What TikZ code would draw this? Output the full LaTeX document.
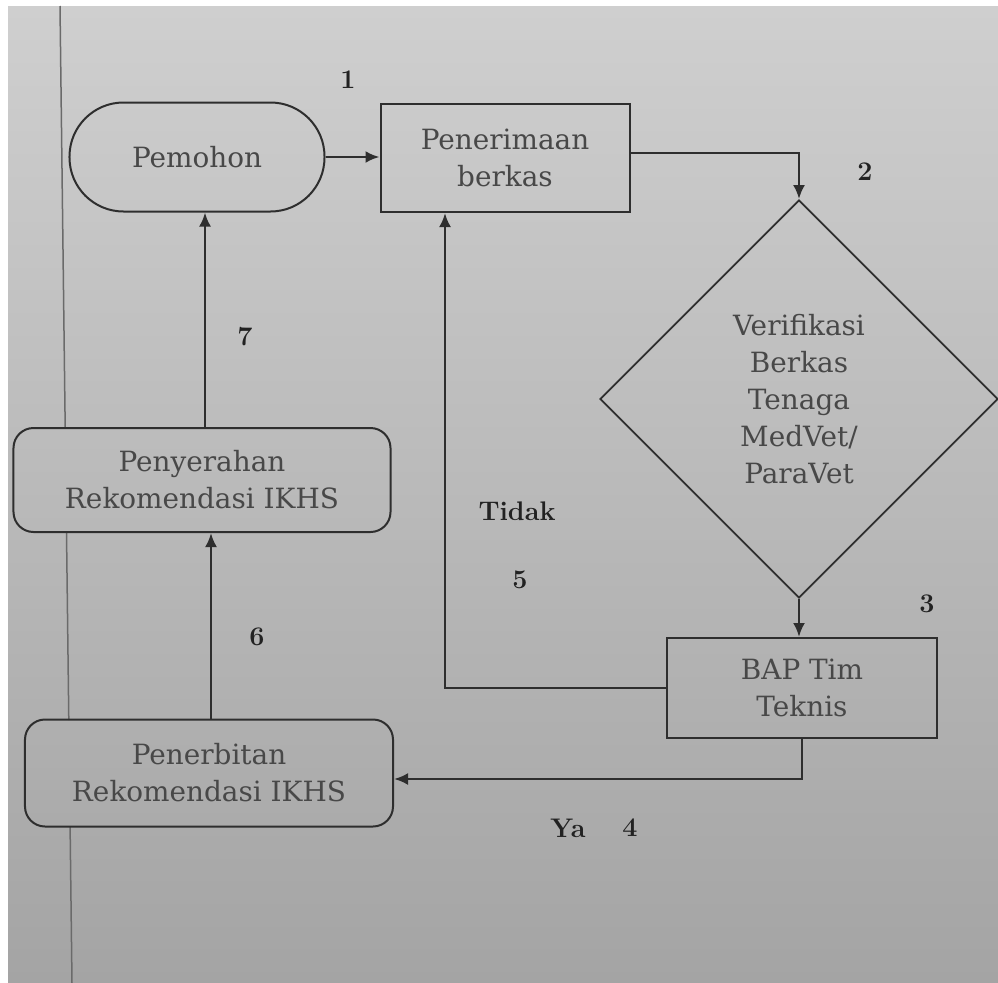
\documentclass[tikz,border=0pt]{standalone}
\usepackage{fontspec}
\newfontfamily\boxfont{DejaVu Serif}
\usetikzlibrary{shapes.geometric,arrows.meta}
\definecolor{linec}{HTML}{2E2E2E}
\definecolor{textc}{HTML}{484848}
\definecolor{lblc}{HTML}{222222}
\definecolor{pagec}{HTML}{6A6A6A}
\definecolor{bgtop}{HTML}{CFCFCF}
\definecolor{bgbot}{HTML}{A4A4A4}
\begin{document}
\begin{tikzpicture}[x=1bp,y=-1bp,
  box/.style={draw=linec, line width=2bp, inner sep=0pt, text=textc, align=center, font=\boxfont\fontsize{28}{37}\selectfont},
  conn/.style={draw=linec, line width=2.6bp, -{Latex[length=14bp,width=12bp]}},
  lbl/.style={text=lblc, inner sep=0pt, font=\fontsize{27}{30}\selectfont\bfseries},
  pageline/.style={draw=pagec, line width=1.5bp}]
\useasboundingbox (0,0) rectangle (998,983);
\fill[white] (0,0) rectangle (998,983);
\shade[top color=bgtop, bottom color=bgbot] (8,6) rectangle (998,983);
\coordinate (p0) at (60,6);
\coordinate (p1) at (65.2,428);
\coordinate (p2) at (66.5,532);
\coordinate (p3) at (68.8,720);
\coordinate (p4) at (70.1,827);
\coordinate (p5) at (72,983);
\draw[pageline] (p0) -- (p1);
\draw[pageline] (p2) -- (p3);
\draw[pageline] (p4) -- (p5);

\node[box, rounded corners=54bp, minimum width=255bp, minimum height=109bp] (pem) at (197,157) {Pemohon};
\node[box, minimum width=249bp, minimum height=108bp] (pen) at (505,158) {Penerimaan\\berkas};
\node[box, shape=diamond, minimum width=398bp, minimum height=398bp, line width=1.8bp] (ver) at (799,399) {Verifikasi\\Berkas\\Tenaga\\MedVet/\\ParaVet};
\node[box, minimum width=270bp, minimum height=100bp] (bap) at (802,688) {BAP Tim\\Teknis};
\node[box, rounded corners=20bp, minimum width=368bp, minimum height=107bp] (pnb) at (209,773) {Penerbitan\\Rekomendasi IKHS};
\node[box, rounded corners=20bp, minimum width=377bp, minimum height=104bp] (pny) at (202,480) {Penyerahan\\Rekomendasi IKHS};

\draw[conn] (pem.east) -- (pem.east -| pen.west);
\draw[conn] ([yshift=5bp]pen.east) -| (ver.north);
\draw[conn] (ver.south) -- (ver.south |- bap.north);
\draw[conn] (bap.west) -| ([xshift=-60bp]pen.south);
\draw[conn] (bap.south) |- ([yshift=-6bp]pnb.east);
\draw[conn] ([xshift=2bp]pnb.north) -- ([xshift=2bp]pnb.north |- pny.south);
\draw[conn] ([xshift=3bp]pny.north) -- ([xshift=3bp]pny.north |- pem.south);

\node[lbl] (l1) at (348,80) {1};
\node[lbl] (l2) at (865,172) {2};
\node[lbl] (l3) at (927,604) {3};
\node[lbl] (l4) at (630,828) {4};
\node[lbl] (l5) at (520,580) {5};
\node[lbl] (l6) at (257,637) {6};
\node[lbl] (l7) at (245,337) {7};
\node[lbl] (tidak) at (517,511) {Tidak};
\node[lbl] (ya) at (568,828) {Ya};
\end{tikzpicture}
\end{document}
